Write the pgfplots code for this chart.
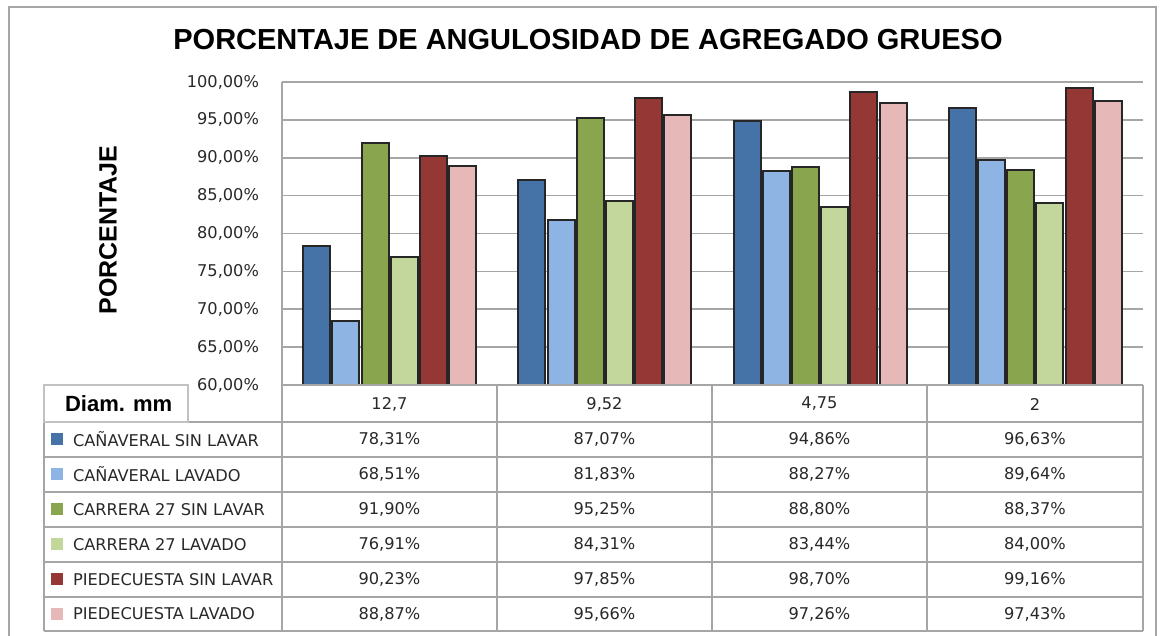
\documentclass[border=0pt]{standalone}
\usepackage{pgfplots}
\pgfplotsset{compat=1.18}
\usepackage{fontspec}
\setmainfont{DejaVu Sans}
\newfontfamily\arialf{Liberation Sans}
\definecolor{c1}{RGB}{69,114,167}
\definecolor{c2}{RGB}{142,180,227}
\definecolor{c3}{RGB}{137,165,78}
\definecolor{c4}{RGB}{195,214,155}
\definecolor{c5}{RGB}{149,55,53}
\definecolor{c6}{RGB}{230,185,184}
\definecolor{gl}{RGB}{166,166,166}
\definecolor{txt}{RGB}{40,40,40}
\begin{document}
\begin{tikzpicture}
\begin{axis}[
  at={(141pt,-192.5pt)}, anchor=south west,
  width=430.5pt, height=151.5pt, scale only axis,
  xmin=-0.5, xmax=3.5, ymin=60, ymax=100,
  ybar=1.1pt, bar width=13.5pt,
  xtick=\empty,
  ytick={60,65,70,75,80,85,90,95,100},
  yticklabels={{60,00\%},{65,00\%},{70,00\%},{75,00\%},{80,00\%},{85,00\%},{90,00\%},{95,00\%},{100,00\%}},
  yticklabel style={font=\fontsize{8.1}{9}\selectfont, text=txt, xshift=-8pt},
  /pgf/number format/assume math mode=true,
  major tick length=0pt,
  axis x line*=bottom, axis y line*=left,
  axis line style={gl, line width=0.8pt},
  ymajorgrids, grid style={gl, line width=0.8pt},
  every axis plot/.append style={draw=black!85, line width=1pt},
]
\addplot[fill=c1] coordinates {(0,78.31) (1,87.07) (2,94.86) (3,96.63)};
\addplot[fill=c2] coordinates {(0,68.51) (1,81.83) (2,88.27) (3,89.64)};
\addplot[fill=c3] coordinates {(0,91.90) (1,95.25) (2,88.80) (3,88.37)};
\addplot[fill=c4] coordinates {(0,76.91) (1,84.31) (2,83.44) (3,84.00)};
\addplot[fill=c5] coordinates {(0,90.23) (1,97.85) (2,98.70) (3,99.16)};
\addplot[fill=c6] coordinates {(0,88.87) (1,95.66) (2,97.26) (3,97.43)};
\end{axis}
\begin{scope}[x=0.5pt,y=-0.5pt]
\useasboundingbox (0,0) rectangle (1163,636);
% outer border
\draw[gl,line width=0.7pt] (9,636) -- (9,7) -- (1156,7) -- (1156,636);
% title
\node[font=\arialf\bfseries\fontsize{14.5}{16}\selectfont] at (588,40) {PORCENTAJE DE ANGULOSIDAD DE AGREGADO GRUESO};
\node[font=\arialf\bfseries\fontsize{12.5}{14}\selectfont, rotate=90] at (108,230) {PORCENTAJE};
% data table
\begin{scope}[gl, line width=0.8pt]
\draw (282,385) -- (1143,385);
\foreach \y in {422,457,492,527,562,597,631} \draw (44,\y) -- (1143,\y);
\draw (44,422) -- (44,631);
\foreach \x in {282,497,712,927,1143} \draw (\x,385) -- (\x,631);
\draw[line width=0.6pt, gl!70] (44,385) rectangle (188,422);
\end{scope}
\node[font=\arialf\bfseries\fontsize{11}{12}\selectfont, anchor=west] at (58,404) {Diam. mm};
\begin{scope}[every node/.style={font=\fontsize{8.1}{9}\selectfont, text=txt}]
\node at (389.5,404) {12,7};
\node at (604.5,404) {9,52};
\node at (819.5,404) {4,75};
\node at (1035,404) {2};
% rows
\fill[c1] (51,433) rectangle (63,445);
\node[anchor=west] at (66,439.5) {CAÑAVERAL SIN LAVAR};
\node at (389.5,439.5) {78,31\%}; \node at (604.5,439.5) {87,07\%}; \node at (819.5,439.5) {94,86\%}; \node at (1035,439.5) {96,63\%};
\fill[c2] (51,468) rectangle (63,480);
\node[anchor=west] at (66,474.5) {CAÑAVERAL LAVADO};
\node at (389.5,474.5) {68,51\%}; \node at (604.5,474.5) {81,83\%}; \node at (819.5,474.5) {88,27\%}; \node at (1035,474.5) {89,64\%};
\fill[c3] (51,503) rectangle (63,515);
\node[anchor=west] at (66,509.5) {CARRERA 27 SIN LAVAR};
\node at (389.5,509.5) {91,90\%}; \node at (604.5,509.5) {95,25\%}; \node at (819.5,509.5) {88,80\%}; \node at (1035,509.5) {88,37\%};
\fill[c4] (51,538) rectangle (63,550);
\node[anchor=west] at (66,544.5) {CARRERA 27 LAVADO};
\node at (389.5,544.5) {76,91\%}; \node at (604.5,544.5) {84,31\%}; \node at (819.5,544.5) {83,44\%}; \node at (1035,544.5) {84,00\%};
\fill[c5] (51,573) rectangle (63,585);
\node[anchor=west] at (66,579.5) {PIEDECUESTA SIN LAVAR};
\node at (389.5,579.5) {90,23\%}; \node at (604.5,579.5) {97,85\%}; \node at (819.5,579.5) {98,70\%}; \node at (1035,579.5) {99,16\%};
\fill[c6] (51,608) rectangle (63,620);
\node[anchor=west] at (66,614) {PIEDECUESTA LAVADO};
\node at (389.5,614) {88,87\%}; \node at (604.5,614) {95,66\%}; \node at (819.5,614) {97,26\%}; \node at (1035,614) {97,43\%};
\end{scope}
\end{scope}
\end{tikzpicture}
\end{document}
